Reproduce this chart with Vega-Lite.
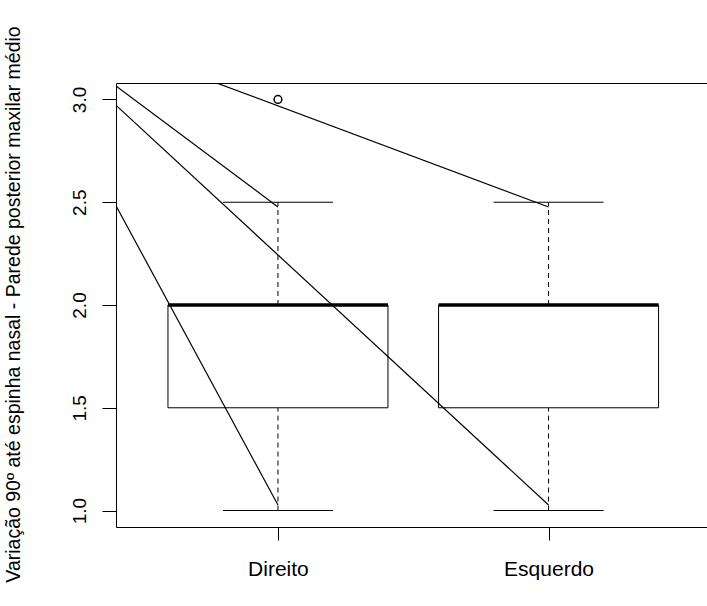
{
  "$schema": "https://vega.github.io/schema/vega-lite/v6.json",
  "autosize": {"type": "none"},
  "width": 591,
  "height": 444,
  "padding": {"left": 116, "top": 83, "right": 0, "bottom": 79},
  "background": "white",
  "config": {
    "view": {"stroke": null},
    "font": "Liberation Sans",
    "axis": {"grid": false, "domain": true, "domainColor": "black", "domainWidth": 1, "tickColor": "black", "labelColor": "black", "titleColor": "black", "labelFont": "Liberation Sans", "titleFont": "Liberation Sans", "titleFontWeight": "normal"}
  },
  "resolve": {"axis": {"x": "independent"}},
  "datasets": {
    "boxes": [
      {"grupo": 1, "nome": "Direito", "lo": 1.0, "q1": 1.5, "med": 2.0, "q3": 2.0, "hi": 2.5},
      {"grupo": 2, "nome": "Esquerdo", "lo": 1.0, "q1": 1.5, "med": 2.0, "q3": 2.0, "hi": 2.5}
    ],
    "outliers": [
      {"grupo": 1, "nome": "Direito", "valor": 3.0}
    ],
    "linhas": [
      {"linha": "a", "x": 0, "y": 3.46},
      {"linha": "a", "x": 1, "y": 1.027},
      {"linha": "b", "x": 0, "y": 3.46},
      {"linha": "b", "x": 1, "y": 2.477},
      {"linha": "c", "x": 0, "y": 3.46},
      {"linha": "c", "x": 2, "y": 1.027},
      {"linha": "d", "x": 0, "y": 3.46},
      {"linha": "d", "x": 2, "y": 2.477}
    ]
  },
  "layer": [
    {
      "data": {"name": "boxes"},
      "mark": {"type": "rule", "color": "black", "strokeWidth": 1, "strokeDash": [5, 4]},
      "encoding": {
        "x": {"field": "grupo", "type": "quantitative", "scale": {"domain": [0.42, 2.567], "nice": false, "zero": false},
              "axis": {"values": [1, 2], "labelExpr": "datum.value == 1 ? 'Direito' : 'Esquerdo'", "tickSize": 13, "labelPadding": 35, "labelFontSize": 21, "labelBaseline": "alphabetic", "title": null}},
        "y": {"field": "q3", "type": "quantitative", "scale": {"domain": [0.92, 3.08], "nice": false, "zero": false},
              "axis": {"values": [1, 1.5, 2, 2.5, 3], "format": ".1f", "tickSize": 14, "labelAngle": -90, "labelAlign": "center", "labelBaseline": "alphabetic", "labelPadding": 17, "labelFontSize": 19,
                       "title": "Variação 90º até espinha nasal - Parede posterior maxilar médio", "titleFontSize": 19.5, "titleAngle": -90, "titleAlign": "center", "titleBaseline": "alphabetic", "titleX": -97, "titleY": 221}},
        "y2": {"field": "hi"}
      }
    },
    {
      "data": {"name": "boxes"},
      "mark": {"type": "rule", "color": "black", "strokeWidth": 1, "strokeDash": [5, 4]},
      "encoding": {
        "x": {"field": "grupo", "type": "quantitative", "axis": null},
        "y": {"field": "lo", "type": "quantitative"},
        "y2": {"field": "q1"}
      }
    },
    {
      "data": {"name": "boxes"},
      "mark": {"type": "bar", "size": 220, "fill": "white", "stroke": "black", "strokeWidth": 1},
      "encoding": {
        "x": {"field": "grupo", "type": "quantitative", "axis": null},
        "y": {"field": "q1", "type": "quantitative"},
        "y2": {"field": "q3"}
      }
    },
    {
      "data": {"name": "boxes"},
      "mark": {"type": "tick", "orient": "horizontal", "size": 220, "thickness": 3.5, "color": "black", "opacity": 1},
      "encoding": {
        "x": {"field": "grupo", "type": "quantitative", "axis": null},
        "y": {"field": "med", "type": "quantitative"}
      }
    },
    {
      "data": {"name": "boxes"},
      "mark": {"type": "tick", "orient": "horizontal", "size": 110, "thickness": 1, "color": "black", "opacity": 1},
      "encoding": {
        "x": {"field": "grupo", "type": "quantitative", "axis": null},
        "y": {"field": "hi", "type": "quantitative"}
      }
    },
    {
      "data": {"name": "boxes"},
      "mark": {"type": "tick", "orient": "horizontal", "size": 110, "thickness": 1, "color": "black", "opacity": 1},
      "encoding": {
        "x": {"field": "grupo", "type": "quantitative", "axis": null},
        "y": {"field": "lo", "type": "quantitative"}
      }
    },
    {
      "data": {"name": "outliers"},
      "mark": {"type": "point", "shape": "circle", "size": 60, "filled": false, "color": "black", "strokeWidth": 1.5, "opacity": 1},
      "encoding": {
        "x": {"field": "grupo", "type": "quantitative", "axis": {"orient": "top", "domain": true, "ticks": false, "labels": false, "title": null}},
        "y": {"field": "valor", "type": "quantitative"}
      }
    },
    {
      "data": {"name": "linhas"},
      "mark": {"type": "line", "color": "black", "strokeWidth": 1.2, "clip": true},
      "encoding": {
        "x": {"field": "x", "type": "quantitative", "axis": null},
        "y": {"field": "y", "type": "quantitative"},
        "detail": {"field": "linha"}
      }
    }
  ]
}
